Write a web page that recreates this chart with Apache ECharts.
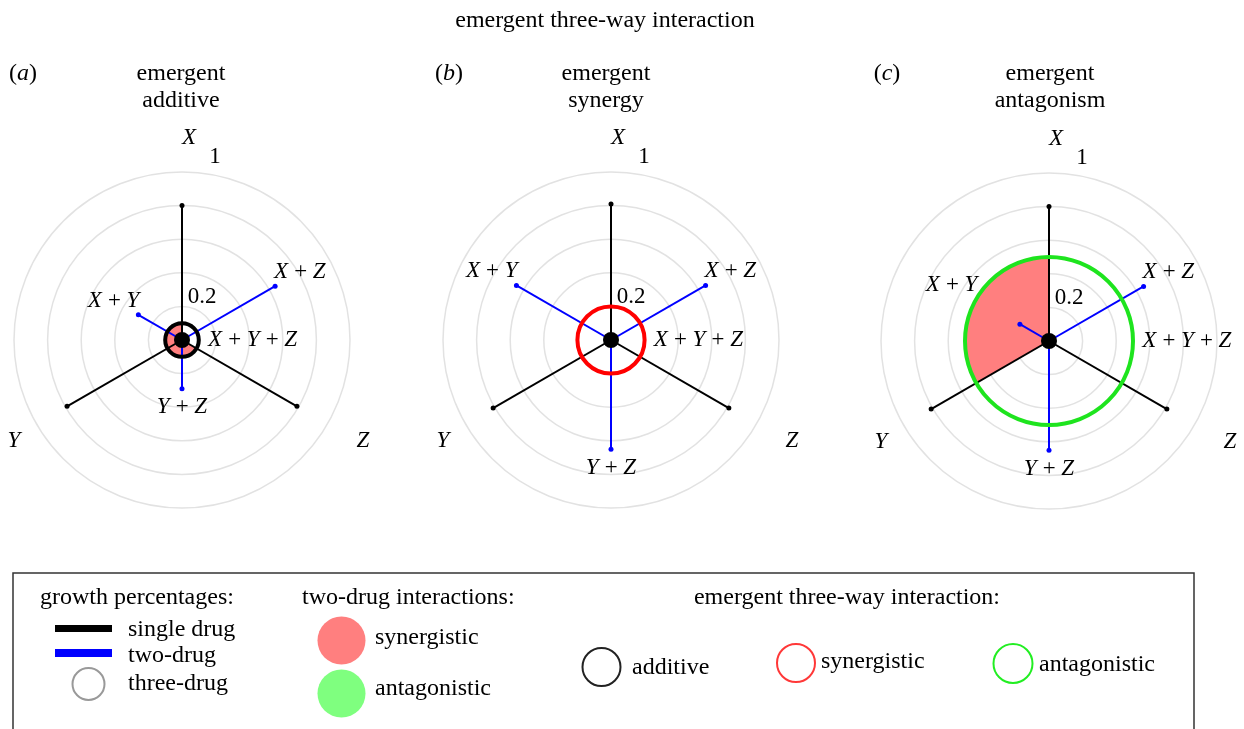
<!DOCTYPE html>
<html>
<head>
<meta charset="utf-8">
<script src="https://cdn.jsdelivr.net/npm/echarts@6/dist/echarts.min.js"></script>
<style>
  html, body { margin: 0; background: #fff; }
  #chart { width: 1244px; height: 729px; }
</style>
</head>
<body>
<div id="chart"></div>
<script>
// --- data ---
const panelLetters = ['a', 'b', 'c'];
const panelTitles = ['emergent\nadditive', 'emergent\nsynergy', 'emergent\nantagonism'];
const singleNames = ['X', 'Y', 'Z'];
const singleAngles = [0, 240, 120];
const pairNames = ['X\u2009+\u2009Y', 'X\u2009+\u2009Z', 'Y\u2009+\u2009Z'];
const pairAngles = [300, 60, 180];
const tripleName = 'X\u2009+\u2009Y\u2009+\u2009Z';
const singleDrug = [[0.80, 0.79, 0.79], [0.81, 0.81, 0.81], [0.80, 0.81, 0.81]];
const twoDrug = [[0.30, 0.64, 0.29], [0.65, 0.65, 0.65], [0.20, 0.65, 0.65]];
const threeDrug = [0.10, 0.20, 0.50];
const pairInteraction = [['syn', 'add', 'syn'], ['add', 'add', 'add'], ['syn', 'add', 'add']];
const emergentType = ['add', 'syn', 'ant'];
const radiusTicks = [0.2, 1];

// --- layout / style ---
const FONT = "'Liberation Serif', 'Times New Roman', serif";
const centers = [[182, 340], [611, 340], [1049, 341]];
const headingX = [181, 606, 1050];
const letterX = [23, 449, 887];
const R = 168;
const tickShift = [[20, -9], [33, -15]];
const colors = {
  single: '#000000', pair: '#0000ff',
  fill: { syn: '#ff7f7f', ant: '#7fff7f' },
  ring: { add: '#000000', syn: '#ff0000', ant: '#1ee41e' }
};

function txt(text, x, y, opt) {
  return {
    type: 'text', x: x, y: y, silent: true,
    style: Object.assign({
      text: text, fill: '#000', fontFamily: FONT, fontSize: 24,
      textAlign: 'left', textVerticalAlign: 'middle'
    }, opt || {})
  };
}

const chart = echarts.init(document.getElementById('chart'));
const polar = [], radiusAxis = [], angleAxis = [], series = [];

panelLetters.forEach((letter, p) => {
  polar.push({ center: centers[p], radius: R });
  radiusAxis.push({
    polarIndex: p, type: 'value', min: 0, max: 1, interval: 0.2,
    axisLine: { show: false }, axisTick: { show: false }, axisLabel: { show: false },
    splitLine: { show: true, lineStyle: { color: '#e2e2e2', width: 1.5 } }
  });
  angleAxis.push({
    polarIndex: p, type: 'value', min: 0, max: 360, startAngle: 90, clockwise: true, show: false
  });

  // two-drug interaction sectors, out to the three-drug radius
  const sectorData = [];
  pairInteraction[p].forEach((kind, k) => {
    if (kind !== 'add') sectorData.push([threeDrug[p], pairAngles[k], k]);
  });
  series.push({
    type: 'custom', coordinateSystem: 'polar', polarIndex: p, z: 1, silent: true,
    encode: { radius: 0, angle: 1 },
    data: sectorData,
    renderItem: (params, api) => {
      const r = api.value(0), ang = api.value(1), k = api.value(2);
      const c = api.coord([0, 0]);
      const a = api.coord([r, (ang - 60 + 360) % 360]);
      const b = api.coord([r, ang + 60]);
      const rr = Math.hypot(a[0] - c[0], a[1] - c[1]);
      const s = Math.atan2(a[1] - c[1], a[0] - c[0]);
      let e = Math.atan2(b[1] - c[1], b[0] - c[0]);
      while (e <= s) e += 2 * Math.PI;
      return {
        type: 'sector',
        shape: { cx: c[0], cy: c[1], r0: 0, r: rr, startAngle: s, endAngle: e, clockwise: true },
        style: { fill: colors.fill[pairInteraction[p][k]] }
      };
    }
  });

  // spokes: single drug (black) and two-drug (blue)
  const spokeData = [];
  singleDrug[p].forEach((v, k) => spokeData.push([v, singleAngles[k], 0]));
  twoDrug[p].forEach((v, k) => spokeData.push([v, pairAngles[k], 1]));
  series.push({
    type: 'custom', coordinateSystem: 'polar', polarIndex: p, z: 2, silent: true,
    encode: { radius: 0, angle: 1 },
    data: spokeData,
    renderItem: (params, api) => {
      const v = api.value(0), ang = api.value(1);
      const col = api.value(2) ? colors.pair : colors.single;
      const c = api.coord([0, ang]);
      const e = api.coord([v, ang]);
      return {
        type: 'group',
        children: [
          { type: 'line', shape: { x1: c[0], y1: c[1], x2: e[0], y2: e[1] }, style: { stroke: col, lineWidth: 2 } },
          { type: 'circle', shape: { cx: e[0], cy: e[1], r: 2.5 }, style: { fill: col } }
        ]
      };
    }
  });

  // three-drug circle and centre dot
  series.push({
    type: 'custom', coordinateSystem: 'polar', polarIndex: p, z: 3, silent: true,
    encode: { radius: 0, angle: 1 },
    data: [[threeDrug[p], 90]],
    renderItem: (params, api) => {
      const c = api.coord([0, 0]);
      const e = api.coord([api.value(0), api.value(1)]);
      const rr = Math.hypot(e[0] - c[0], e[1] - c[1]);
      return {
        type: 'group',
        children: [
          { type: 'circle', shape: { cx: c[0], cy: c[1], r: rr }, style: { fill: 'none', stroke: colors.ring[emergentType[p]], lineWidth: 4 } },
          { type: 'circle', shape: { cx: c[0], cy: c[1], r: 8 }, style: { fill: '#000' } }
        ]
      };
    }
  });

  // labels
  series.push({
    type: 'custom', coordinateSystem: 'polar', polarIndex: p, z: 4, silent: true,
    encode: { radius: 0, angle: 1 },
    data: [[0, 0]],
    renderItem: (params, api) => {
      const kids = [];
      const it = { fontStyle: 'italic', fontSize: 23 };
      singleNames.forEach((n, k) => {
        const pt = api.coord([1.2, singleAngles[k]]);
        kids.push(txt(n, pt[0], pt[1], it));
      });
      pairNames.forEach((n, k) => {
        const off = pairAngles[k] === 180 ? 0.11 : 0.17;
        const pt = api.coord([Math.max(twoDrug[p][k], threeDrug[p]) + off, pairAngles[k]]);
        kids.push(txt(n, pt[0], pt[1], Object.assign({ textAlign: 'center' }, it)));
      });
      const tp = api.coord([threeDrug[p] + 0.055, 90]);
      kids.push(txt(tripleName, tp[0], tp[1], it));
      radiusTicks.forEach((t, i) => {
        const pt = api.coord([t, 0]);
        kids.push(txt(String(t), pt[0] + tickShift[i][0], pt[1] + tickShift[i][1], { textAlign: 'center', fontSize: 23 }));
      });
      return { type: 'group', children: kids };
    }
  });
});

// titles and legend box
const graphic = [txt('emergent three-way interaction', 605, 21, { textAlign: 'center' })];
panelLetters.forEach((letter, p) => {
  graphic.push(txt('({i|' + letter + '})', letterX[p], 74, {
    textAlign: 'center',
    rich: { i: { fontStyle: 'italic', fontSize: 24, fontFamily: FONT, fill: '#000' } }
  }));
  graphic.push(txt(panelTitles[p], headingX[p], 87, { textAlign: 'center', lineHeight: 27 }));
});
graphic.push(
  { type: 'rect', shape: { x: 13, y: 573, width: 1181, height: 200 }, style: { fill: 'none', stroke: '#333', lineWidth: 1.5 } },
  txt('growth percentages:', 40, 598),
  { type: 'rect', shape: { x: 55, y: 625, width: 57, height: 7 }, style: { fill: colors.single } },
  txt('single drug', 128, 630),
  { type: 'rect', shape: { x: 55, y: 649, width: 57, height: 8 }, style: { fill: colors.pair } },
  txt('two-drug', 128, 656),
  { type: 'circle', shape: { cx: 88.5, cy: 684, r: 16 }, style: { fill: 'none', stroke: '#999', lineWidth: 2 } },
  txt('three-drug', 128, 684),
  txt('two-drug interactions:', 302, 598),
  { type: 'circle', shape: { cx: 341.5, cy: 640.5, r: 24 }, style: { fill: colors.fill.syn } },
  txt('synergistic', 375, 638),
  { type: 'circle', shape: { cx: 341.5, cy: 693.5, r: 24 }, style: { fill: colors.fill.ant } },
  txt('antagonistic', 375, 689),
  txt('emergent three-way interaction:', 847, 598, { textAlign: 'center' }),
  { type: 'circle', shape: { cx: 601.5, cy: 667, r: 19 }, style: { fill: 'none', stroke: '#222', lineWidth: 2 } },
  txt('additive', 632, 668),
  { type: 'circle', shape: { cx: 796, cy: 663, r: 19 }, style: { fill: 'none', stroke: '#ff3838', lineWidth: 2 } },
  txt('synergistic', 821, 662),
  { type: 'circle', shape: { cx: 1013, cy: 663.5, r: 19.5 }, style: { fill: 'none', stroke: '#22ee22', lineWidth: 2 } },
  txt('antagonistic', 1039, 665)
);

chart.setOption({
  animation: false,
  backgroundColor: '#fff',
  polar: polar,
  radiusAxis: radiusAxis,
  angleAxis: angleAxis,
  series: series,
  graphic: graphic
});
</script>
</body>
</html>
